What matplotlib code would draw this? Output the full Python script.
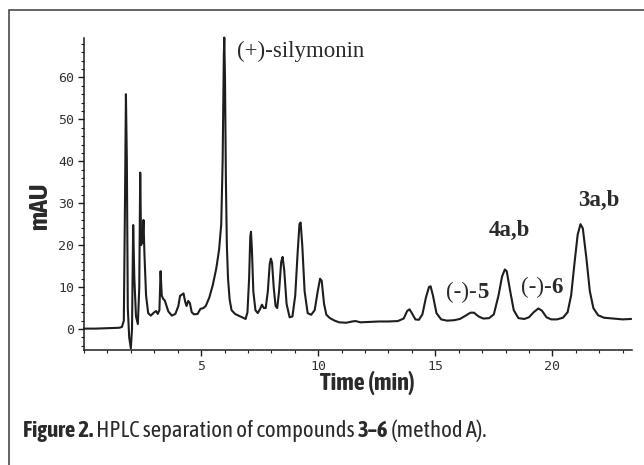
import matplotlib
matplotlib.use("Agg")
import matplotlib.pyplot as plt
from matplotlib.patches import Rectangle
from matplotlib.ticker import MultipleLocator
from matplotlib.transforms import IdentityTransform

# ── data ─────────────────────────────────────────────────────────────────────
time_min = [
    0.00, 0.50, 1.00, 1.50, 1.62, 1.70, 1.75, 1.79, 1.83, 1.87, 1.93, 2.00,
    2.05, 2.10, 2.15, 2.22, 2.30, 2.36, 2.40, 2.44, 2.47, 2.50, 2.54, 2.58,
    2.65, 2.74, 2.85, 3.00, 3.08, 3.15, 3.22, 3.27, 3.32, 3.38, 3.45, 3.60,
    3.75, 3.90, 4.03, 4.10, 4.18, 4.25, 4.32, 4.38, 4.45, 4.52, 4.60, 4.70,
    4.85, 4.97, 5.10, 5.20, 5.35, 5.50, 5.65, 5.77, 5.86, 5.92, 5.97, 5.99,
    6.02, 6.06, 6.10, 6.15, 6.22, 6.30, 6.45, 6.60, 6.75, 6.90, 6.98, 7.05,
    7.10, 7.13, 7.17, 7.23, 7.32, 7.42, 7.52, 7.60, 7.68, 7.76, 7.85, 7.93,
    7.98, 8.03, 8.10, 8.18, 8.25, 8.33, 8.42, 8.48, 8.55, 8.65, 8.78, 8.90,
    9.02, 9.12, 9.20, 9.25, 9.32, 9.42, 9.55, 9.70, 9.85, 9.98, 10.08, 10.15,
    10.25, 10.35, 10.50, 10.70, 10.90, 11.20, 11.45, 11.60, 11.80, 12.20,
    12.60, 13.00, 13.40, 13.65, 13.80, 13.90, 14.00, 14.15, 14.30, 14.45,
    14.60, 14.73, 14.80, 14.90, 15.05, 15.25, 15.50, 15.80, 16.05, 16.30,
    16.50, 16.65, 16.85, 17.05, 17.30, 17.50, 17.70, 17.85, 17.97, 18.05,
    18.20, 18.35, 18.55, 18.80, 19.00, 19.20, 19.40, 19.55, 19.75, 19.95,
    20.20, 20.45, 20.65, 20.80, 20.95, 21.08, 21.20, 21.30, 21.45, 21.60,
    21.75, 21.95, 22.20, 22.60, 23.00, 23.35,
]
signal_mau = [
    0.1, 0.1, 0.2, 0.3, 0.5, 2.0, 30.0, 56.0, 40.0, 5.0, -2.0, -4.6,
    0.0, 24.8, 12.0, 3.0, 1.2, 10.0, 37.3, 20.0, 22.0, 20.5, 26.0, 18.0,
    8.0, 3.8, 3.2, 4.0, 4.3, 3.6, 4.5, 13.8, 8.0, 7.2, 6.8, 4.2,
    3.2, 3.6, 5.5, 7.9, 8.2, 8.5, 6.5, 5.5, 6.7, 6.2, 4.0, 3.5,
    3.6, 4.8, 5.0, 5.5, 7.5, 10.5, 14.5, 19.0, 25.0, 40.0, 65.0, 69.5,
    60.0, 35.0, 20.0, 12.0, 7.0, 4.5, 3.6, 3.2, 2.8, 2.4, 4.0, 12.0,
    22.0, 23.2, 19.0, 9.0, 4.5, 3.8, 4.8, 5.8, 5.0, 5.0, 9.0, 15.5,
    16.8, 15.8, 10.0, 5.5, 5.0, 9.0, 16.0, 17.2, 14.0, 6.0, 2.8, 3.0,
    8.0, 18.0, 25.0, 25.4, 20.0, 9.0, 3.8, 3.4, 4.5, 9.0, 12.0, 11.5,
    6.0, 3.4, 2.6, 2.0, 1.6, 1.5, 1.8, 1.9, 1.6, 1.7,
    1.8, 1.8, 1.9, 2.5, 4.3, 4.7, 3.8, 2.3, 2.2, 3.5,
    7.5, 10.0, 10.2, 8.0, 3.8, 2.3, 2.0, 2.1, 2.4, 3.2,
    3.9, 3.9, 3.0, 2.5, 2.6, 3.5, 8.0, 12.5, 14.2, 13.8,
    9.0, 4.5, 2.6, 2.4, 2.8, 4.0, 4.9, 4.4, 2.8, 2.3,
    2.3, 2.7, 4.0, 8.0, 16.0, 22.5, 25.0, 24.0, 17.0, 9.0,
    5.0, 3.3, 2.7, 2.5, 2.3, 2.4,
]

x_ticks = [5, 10, 15, 20]
y_ticks = [0, 10, 20, 30, 40, 50, 60]

# peak labels: (text pieces, time, mAU); pieces are (string, bold?)
peak_labels = [
    ([("(+)-silymonin", False)], 6.55, 66.3),
    ([("(-)-", False), ("5", True)], 15.45, 8.8),
    ([("4a,b", True)], 17.30, 23.6),
    ([("(-)-", False), ("6", True)], 18.65, 9.8),
    ([("3a,b", True)], 21.10, 30.7),
]
caption = [
    ("Figure 2.", True),
    (" HPLC separation of compounds ", False),
    ("3–6", True),
    (" (method A).", False),
]

# ── style ────────────────────────────────────────────────────────────────────
INK = "#1e1e1e"
INK_TEXT = "#2a2a2a"
FRAME = "#4a4a4a"

NARROW = ["Asap Condensed", "Archivo Narrow", "DejaVu Sans"]
SERIF = ["Liberation Serif", "DejaVu Serif"]
MONO = ["DejaVu Sans Mono"]

W, H = 644, 465
fig = plt.figure(figsize=(W / 100, H / 100), dpi=100, facecolor="white")

# outer frame (only left and top edges fall inside the crop)
fig.patches.append(Rectangle((9 / W, -0.1), 1.2, 1.1 - 10 / H,
                             transform=fig.transFigure, fill=False,
                             edgecolor=FRAME, linewidth=1.2))

ax = fig.add_axes([84 / W, 1 - 350 / H, (632 - 84) / W, (350 - 38) / H])
ax.plot(time_min, signal_mau, color=INK, linewidth=1.5, solid_joinstyle="round",
        clip_on=False)

ax.set_xlim(0, 23.4)
ax.set_ylim(-5, 69.4)
for side in ("top", "right"):
    ax.spines[side].set_visible(False)
for side in ("left", "bottom"):
    ax.spines[side].set_color(INK)
    ax.spines[side].set_linewidth(1.1)

ax.set_xticks(x_ticks)
ax.set_yticks(y_ticks)
ax.xaxis.set_minor_locator(MultipleLocator(1))
ax.yaxis.set_minor_locator(MultipleLocator(2))
ax.tick_params(which="major", length=4, width=1, color=INK, pad=3,
               labelsize=9.5, labelcolor="#333333")
ax.tick_params(which="minor", length=2, width=0.8, color=INK)
for lab in ax.get_xticklabels() + ax.get_yticklabels():
    lab.set_fontfamily(MONO)

ax.set_xlabel("Time (min)", family=NARROW, fontweight="bold", fontsize=17.5,
              color=INK_TEXT)
ax.xaxis.set_label_coords((367 - 84) / (632 - 84), -0.068)
ax.set_ylabel("mAU", family=NARROW, fontweight="bold", fontsize=19,
              color=INK_TEXT)
ax.yaxis.set_label_coords((52 - 84) / (632 - 84), (350 - 206) / (350 - 38))


def draw_pieces(pieces, x, y, transform, family, size, ha="left"):
    """Write a run of regular/bold pieces one after another on a line."""
    renderer = fig.canvas.get_renderer()
    texts = []
    for s, bold in pieces:
        texts.append(fig.text(0, 0, s, family=family, fontsize=size,
                              fontweight="bold" if bold else "normal",
                              color=INK_TEXT, va="center", ha="left"))
    widths = [t.get_window_extent(renderer).width for t in texts]
    x0, y0 = transform.transform((x, y))
    if ha == "center":
        x0 -= sum(widths) / 2
    for t, w in zip(texts, widths):
        t.set_transform(None)
        t.set_position((x0, y0))
        x0 += w


for pieces, t, v in peak_labels:
    draw_pieces(pieces, t, v, ax.transData, SERIF, 16.5)

# caption, placed in pixel coordinates
draw_pieces(caption, 23, H - 431, IdentityTransform(), NARROW, 16.4)

fig.savefig("out.png", dpi=100, facecolor="white")
